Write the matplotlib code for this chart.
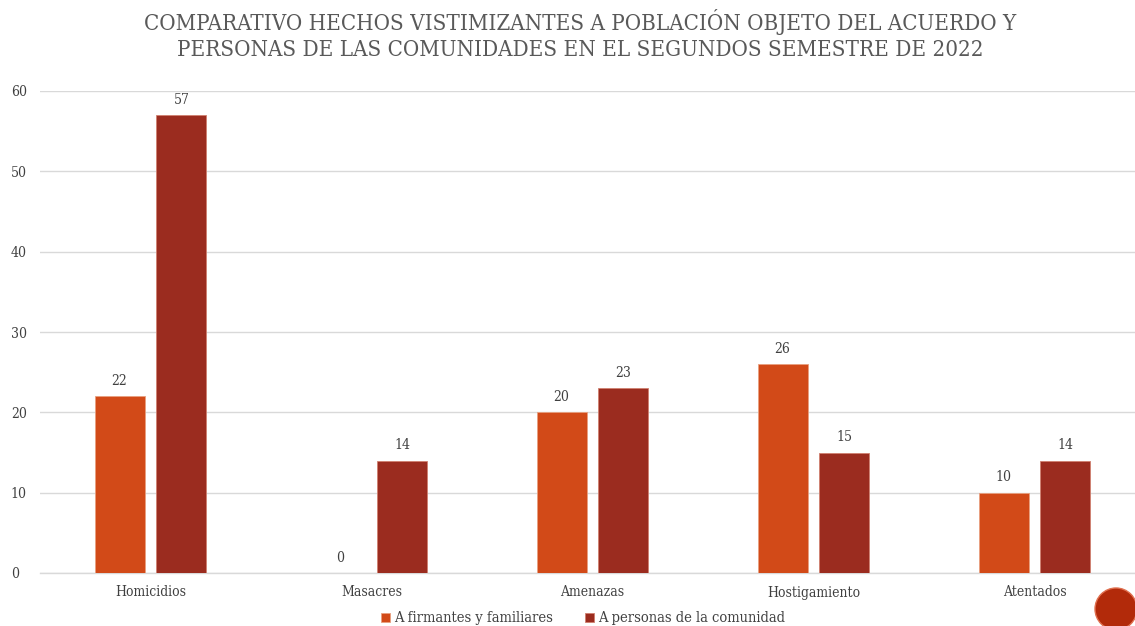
import matplotlib.pyplot as plt
import matplotlib.patches as mpatches
import numpy as np

categories = ["Homicidios", "Masacres", "Amenazas", "Hostigamiento", "Atentados"]
firmantes = [22, 0, 20, 26, 10]
comunidad = [57, 14, 23, 15, 14]

plt.rcParams['font.family'] = ['DejaVu Serif']
plt.rcParams['font.stretch'] = 'condensed'

fig = plt.figure(figsize=(11.35, 6.26), dpi=100)
ax = fig.add_axes([40/1135, 1 - 573/626, 1105/1135, (573 - 91)/626])

x = np.arange(len(categories))
w = 0.226
off = 0.14
c1 = "#D24A18"
c2 = "#9B2C1F"
b1 = ax.bar(x - off, firmantes, w, color=c1, edgecolor="#E8A080", linewidth=0.6, label="A firmantes y familiares", zorder=3)
b2 = ax.bar(x + off, comunidad, w, color=c2, edgecolor="#D08070", linewidth=0.6, label="A personas de la comunidad", zorder=3)

for bars in (b1, b2):
    for b in bars:
        ax.annotate(str(int(b.get_height())), (b.get_x() + b.get_width()/2, b.get_height()),
                    xytext=(0, 6), textcoords="offset points", ha="center", va="bottom",
                    fontsize=10, color="#404040")

ax.set_xlim(-0.5, len(categories) - 0.5)
ax.set_ylim(0, 60)
ax.set_yticks(range(0, 61, 10))
ax.set_xticks(x)
ax.set_xticklabels(categories, fontsize=10, color="#404040")
ax.tick_params(axis='y', labelsize=10, labelcolor="#404040", length=0, pad=21)
ax.tick_params(axis='x', length=0, pad=9)
ax.grid(axis='y', color="#D9D9D9", linewidth=1, zorder=0)
for s in ["top", "right", "left"]:
    ax.spines[s].set_visible(False)
ax.spines["bottom"].set_color("#D9D9D9")
ax.spines["bottom"].set_linewidth(1)
for t in ax.get_yticklabels():
    t.set_horizontalalignment('left')

fig.text(0.511, 0.985, "COMPARATIVO HECHOS VISTIMIZANTES A POBLACIÓN OBJETO DEL ACUERDO Y\nPERSONAS DE LAS COMUNIDADES EN EL SEGUNDOS SEMESTRE DE 2022",
         ha="center", va="top", fontsize=16, color="#595959", linespacing=1.2)

fig.legend(handles=[b1, b2], loc="lower center", bbox_to_anchor=(0.514, -0.02), ncol=2,
           frameon=False, fontsize=10.5, handlelength=0.6, handleheight=0.6,
           handletextpad=0.3, columnspacing=2.2, labelcolor="#404040")

fig.patches.append(mpatches.Ellipse((1116/1135, 1 - 609/626), 42/1135, 42/626, transform=fig.transFigure,
                                    facecolor="#B22A0A", edgecolor="#E07050", linewidth=1))

fig.savefig("out.png", dpi=100)
